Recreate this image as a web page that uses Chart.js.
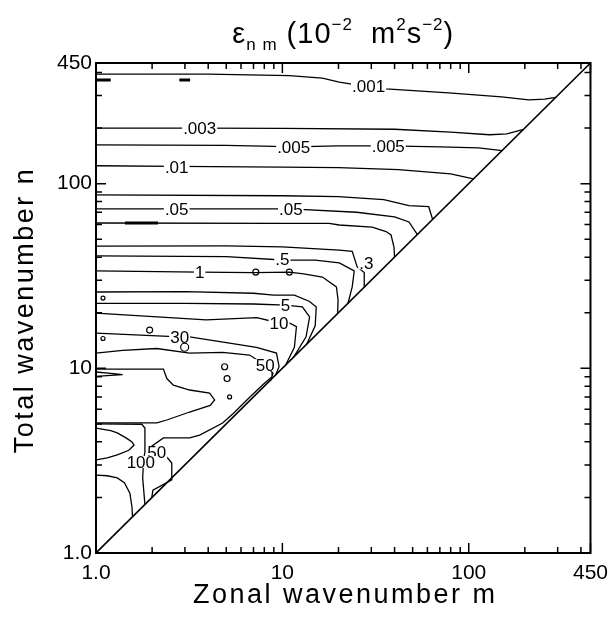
<!DOCTYPE html>
<html>
<head>
<meta charset="utf-8">
<script src="https://cdn.jsdelivr.net/npm/chart.js@4.4.0/dist/chart.umd.min.js"></script>
<style>
html, body { margin: 0; padding: 0; background: #fff; }
#wrap { width: 616px; height: 617px; }
</style>
</head>
<body>
<div id="wrap"><canvas id="chart" width="616" height="617"></canvas></div>
<script>
const FONT = '"Liberation Sans", Arial, Helvetica, sans-serif';

// axis ticks (both axes, log scale 1..450)
const tickValues = [1, 10, 100, 450];
const tickLabels = ['1.0', '10', '100', '450'];
const minorTicks = [2, 3, 4, 5, 6, 7, 8, 9, 20, 30, 40, 50, 60, 70, 80, 90, 200, 300, 400];

// contour lines, points are [m, n]
const c0001 = [[1,392],[4,392],[10.9,384],[16.4,373],[20.2,355],[24,345],[29,340],[36,326],[78,310],[150,295],[210,284],[255,287],[293,293]];
const c0003 = [[1,200],[3.6,200],[10,199],[40,197],[80,190],[129,184],[160,186],[197,197]];
const c0005 = [[1,162],[5,161],[9,159],[11.5,158],[20,160],[37,160],[70,158],[113,156],[151,151]];
const c001 = [[1,125],[2.7,124],[10,123],[20,122],[42,119],[80,113],[106,106]];
const c003 = [[1,87],[10,86],[20,85],[35,82],[47.8,76],[61,75],[64,64]];
const c005 = [[1,73],[2.7,73],[11,73],[25,70],[40,66],[47.8,62],[53,53]];
const c01 = [[1,61.2],[10,61],[17.8,61],[20.2,59.7],[30.3,58.2],[36,55],[38.3,52.7],[39.7,45.4],[40,40]];
const c03 = [[1,45.9],[5,46],[10,45.5],[20.2,43.7],[23.7,43],[25.2,35.4],[27.5,33],[27.5,27.5]];
const c05 = [[1,40.6],[5,40.3],[10,38.6],[15,38.5],[20.2,37.2],[24.3,33.7],[23.7,27.6],[22.5,22.5]];
const c1 = [[1,33.7],[3.6,33.2],[7,33],[10.9,33.2],[13,32.5],[16.4,31.2],[19.5,27.6],[19.9,23.4],[19.8,19.8]];
const c3 = [[1,25.9],[3,26],[7,25.5],[9,24.9],[11.6,24.9],[14,23],[15.2,21.5],[15,17],[13.5,13.5]];
const c5 = [[1,22.5],[3,22.5],[7,22.3],[10.4,22],[12.8,21.5],[14,19],[13.4,14.8],[11.5,11.5]];
const c10 = [[1,19.9],[3.9,18.3],[7.3,18.8],[9.6,17.6],[10.9,17.6],[11.9,16.8],[11.6,13],[10.4,10.4]];
const c30 = [[1,15.5],[2.81,14.8],[3.18,14.8],[5.21,13.7],[7.26,13],[9.3,12.1],[9.6,10.2],[9.2,9.2]];
const c50 = [[1,12.1],[1.39,12.5],[2.12,12.8],[3.18,12.1],[4.78,12.2],[6.67,11.8],[8.1,10.4],[8.9,9.4],[8.8,9.0],[7.9,8.2],[6.7,7.0],[5.45,5.7],[4.78,5.06],[3.6,4.35],[3.18,4.2],[2.3,4.2],[2.0,3.8],[2.12,3.52],[2.4,3.31],[2.55,3.07],[2.55,2.49],[2.02,2.19],[1.99,1.99]];
const c70 = [[1,9.9],[2.3,9.9],[2.4,8.8],[2.6,8.1],[3.18,7.63],[4.07,7.35],[4.33,6.74],[4.1,6.3],[3.18,5.8],[2.4,5.25],[2.12,5.06],[1,5.06]];
const c100 = [[1,5.0],[1.76,4.98],[1.83,4.75],[1.83,3.52],[1.8,3.2],[1.78,2.55],[1.83,1.83]];
const c200 = [[1,4.75],[1.2,4.6],[1.3,4.47],[1.45,4.2],[1.56,3.99],[1.6,3.84],[1.5,3.6],[1.3,3.4],[1.15,3.27],[1,3.19]];
const c300 = [[1,2.64],[1.15,2.62],[1.3,2.55],[1.42,2.4],[1.52,2.11],[1.56,1.77],[1.57,1.57]];
const cSliver = [[1,9.55],[1.2,9.4],[1.39,9.25],[1.2,9.15],[1,9.05]];
const contourLines = [c0001, c0003, c0005, c001, c003, c005, c01, c03, c05, c1, c3, c5, c10, c30, c50, c70, c100, c200, c300, cSliver];

// very thin slivers drawn as short heavy strokes
const slivers = [
  [[1,364],[1.2,364]],
  [[2.8,364],[3.2,364]],
  [[1.43,61.2],[2.15,61.2]]
];

// little closed contours
const blobM = [10.9, 7.2, 1.94, 2.99, 4.9, 5.05, 5.21, 1.09, 1.09];
const blobN = [33.2, 33.2, 16.1, 13, 10.2, 8.8, 7.0, 24, 14.5];
const blobR = [3, 3, 3, 4, 3, 3, 2, 2, 2];

// diagonal n = m
const diagonal = [[1,1],[450,450]];

// contour labels
const labelText = ['.001', '.003', '.005', '.005', '.01', '.05', '.05', '.5', '.3', '1', '5', '10', '30', '50', '50', '100'];
const labelM = [29, 3.6, 11.5, 37, 2.71, 2.71, 11.1, 10, 28.2, 3.6, 10.4, 9.6, 2.81, 8.1, 2.12, 1.74];
const labelN = [338, 200, 158, 160, 123, 73, 73, 39, 37, 33.3, 22, 17.6, 14.8, 10.4, 3.52, 3.11];

const toXY = pts => pts.map(p => ({x: p[0], y: p[1]}));

const datasets = [];
contourLines.forEach(line => {
  datasets.push({ data: toXY(line), showLine: true, borderColor: '#000', borderWidth: 1.3, pointRadius: 0, fill: false });
});
slivers.forEach(line => {
  datasets.push({ data: toXY(line), showLine: true, borderColor: '#000', borderWidth: 3, pointRadius: 0, fill: false });
});
datasets.push({
  data: blobM.map((m, i) => ({x: m, y: blobN[i]})),
  showLine: false, pointRadius: blobR, pointBorderColor: '#000', pointBackgroundColor: 'rgba(0,0,0,0)', pointBorderWidth: 1.2
});
datasets.push({ data: toXY(diagonal), showLine: true, borderColor: '#000', borderWidth: 1.6, pointRadius: 0 });

const frameTicks = {
  id: 'frameTicks',
  afterDatasetsDraw(chart) {
    const {ctx, chartArea: a, scales: {x, y}} = chart;
    ctx.save();
    ctx.strokeStyle = '#000';
    ctx.lineWidth = 1.5;
    tickValues.concat(minorTicks).forEach(v => {
      const len = tickValues.includes(v) ? 10 : 6;
      const px = x.getPixelForValue(v);
      const py = y.getPixelForValue(v);
      ctx.beginPath();
      ctx.moveTo(px, a.bottom); ctx.lineTo(px, a.bottom - len);
      ctx.moveTo(px, a.top); ctx.lineTo(px, a.top + len);
      ctx.moveTo(a.left, py); ctx.lineTo(a.left + len, py);
      ctx.moveTo(a.right, py); ctx.lineTo(a.right - len, py);
      ctx.stroke();
    });
    ctx.lineWidth = 2;
    ctx.strokeRect(a.left, a.top, a.right - a.left, a.bottom - a.top);
    ctx.restore();
  }
};

const contourLabels = {
  id: 'contourLabels',
  afterDatasetsDraw(chart) {
    const {ctx, scales: {x, y}} = chart;
    ctx.save();
    ctx.font = '17px ' + FONT;
    ctx.textAlign = 'center';
    ctx.textBaseline = 'middle';
    labelText.forEach((t, i) => {
      const px = x.getPixelForValue(labelM[i]);
      const py = y.getPixelForValue(labelN[i]);
      const w = ctx.measureText(t).width;
      ctx.fillStyle = '#fff';
      ctx.fillRect(px - w / 2 - 1, py - 6, w + 2, 12);
      ctx.fillStyle = '#000';
      ctx.fillText(t, px, py + 1);
    });
    ctx.restore();
  }
};

const titles = {
  id: 'titles',
  afterDraw(chart) {
    const {ctx, chartArea: a} = chart;
    ctx.save();
    ctx.fillStyle = '#000';
    ctx.textBaseline = 'alphabetic';
    // main title with sub/superscripts
    const big = '29px ' + FONT, small = '17px ' + FONT;
    const parts = [
      ['\u03b5', big, 0], ['n m', small, 7], [' (10', big, 0], ['\u22122', small, -13],
      ['  m', big, 0], ['2', small, -13], ['s', big, 0], ['\u22122', small, -13], [')', big, 0]
    ];
    ctx.letterSpacing = '1px';
    let total = 0;
    parts.forEach(p => { ctx.font = p[1]; total += ctx.measureText(p[0]).width; });
    let cx = (a.left + a.right) / 2 - total / 2;
    parts.forEach(p => {
      ctx.font = p[1];
      ctx.fillText(p[0], cx, 43 + p[2]);
      cx += ctx.measureText(p[0]).width;
    });
    // axis titles
    ctx.font = '27px ' + FONT;
    ctx.letterSpacing = '2.5px';
    ctx.textAlign = 'center';
    ctx.fillText('Zonal wavenumber m', (a.left + a.right) / 2 + 2, 603);
    ctx.translate(33, (a.top + a.bottom) / 2 + 2);
    ctx.rotate(-Math.PI / 2);
    ctx.fillText('Total wavenumber n', 0, 0);
    ctx.restore();
  }
};

const logAxis = (fit) => ({
  type: 'logarithmic',
  min: 1,
  max: 450,
  afterBuildTicks: axis => { axis.ticks = tickValues.map(v => ({value: v})); },
  afterFit: fit,
  grid: { display: false, drawTicks: false },
  border: { display: false },
  ticks: {
    color: '#000',
    font: { family: FONT, size: 21 },
    autoSkip: false,
    maxRotation: 0,
    callback: v => tickLabels[tickValues.indexOf(v)]
  }
});

const xAxis = logAxis(s => { s.height = 64; });
xAxis.ticks.padding = 8;
const yAxis = logAxis(s => { s.width = 96; });
yAxis.ticks.padding = 4;

new Chart(document.getElementById('chart'), {
  type: 'scatter',
  data: { datasets: datasets },
  options: {
    responsive: false,
    devicePixelRatio: 1,
    animation: false,
    layout: { padding: { top: 63, right: 24, left: 0, bottom: 0 } },
    plugins: { legend: { display: false }, tooltip: { enabled: false } },
    elements: { line: { tension: 0 } },
    scales: { x: xAxis, y: yAxis }
  },
  plugins: [frameTicks, contourLabels, titles]
});
</script>
</body>
</html>
